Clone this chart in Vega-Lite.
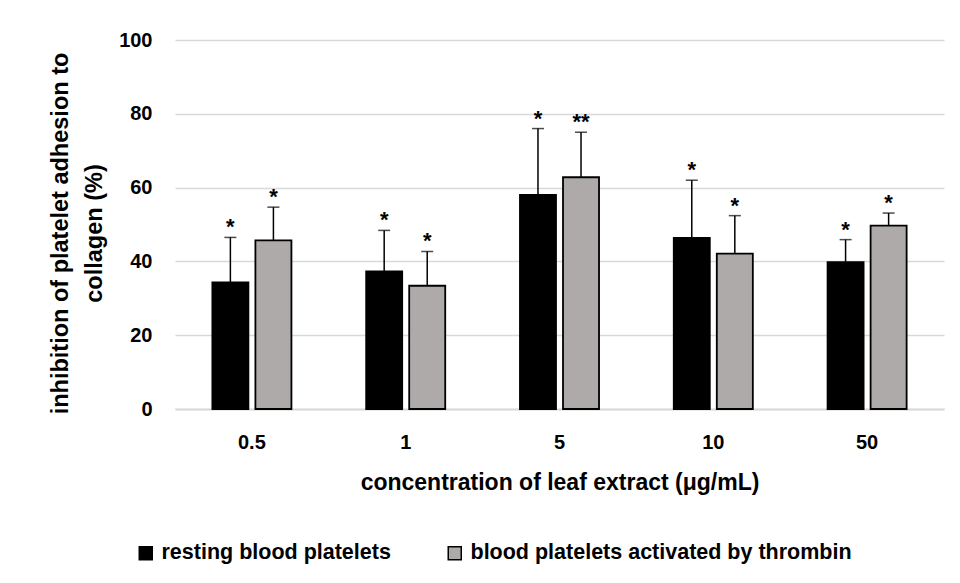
{
  "$schema": "https://vega.github.io/schema/vega-lite/v6.json",
  "width": 769,
  "height": 369,
  "autosize": {"type": "none"},
  "padding": {"left": 175, "top": 40, "right": 16, "bottom": 174},
  "background": "white",
  "config": {
    "view": {"stroke": null},
    "font": "Liberation Sans",
    "axis": {"labelFont": "Liberation Sans", "titleFont": "Liberation Sans Narrow, Liberation Sans", "labelFontWeight": "bold", "titleFontWeight": "bold", "labelColor": "#000000", "titleColor": "#000000"}
  },
  "data": {
    "values": [
      {"conc": "0.5", "series": "resting blood platelets", "value": 34.3, "upper": 46.5, "sig": "*"},
      {"conc": "0.5", "series": "blood platelets activated by thrombin", "value": 45.7, "upper": 54.7, "sig": "*"},
      {"conc": "1", "series": "resting blood platelets", "value": 37.3, "upper": 48.4, "sig": "*"},
      {"conc": "1", "series": "blood platelets activated by thrombin", "value": 33.4, "upper": 42.7, "sig": "*"},
      {"conc": "5", "series": "resting blood platelets", "value": 58.0, "upper": 76.0, "sig": "*"},
      {"conc": "5", "series": "blood platelets activated by thrombin", "value": 62.8, "upper": 75.0, "sig": "**"},
      {"conc": "10", "series": "resting blood platelets", "value": 46.4, "upper": 62.0, "sig": "*"},
      {"conc": "10", "series": "blood platelets activated by thrombin", "value": 42.1, "upper": 52.4, "sig": "*"},
      {"conc": "50", "series": "resting blood platelets", "value": 39.8, "upper": 45.9, "sig": "*"},
      {"conc": "50", "series": "blood platelets activated by thrombin", "value": 49.7, "upper": 53.1, "sig": "*"}
    ]
  },
  "encoding": {
    "x": {
      "field": "conc", "type": "nominal", "sort": ["0.5", "1", "5", "10", "50"],
      "scale": {"paddingInner": 0.486, "paddingOuter": 0.243},
      "axis": {
        "title": "concentration of leaf extract (μg/mL)", "titleFontSize": 23, "titleBaseline": "middle", "titleY": 73,
        "labelAngle": 0, "labelFontSize": 20, "labelBaseline": "middle", "labelPadding": 33, "ticks": false, "tickSize": 0,
        "domain": true, "domainColor": "#d9d9d9", "domainWidth": 2
      }
    },
    "xOffset": {
      "field": "series", "type": "nominal",
      "sort": ["resting blood platelets", "blood platelets activated by thrombin"],
      "scale": {"paddingInner": 0.163, "paddingOuter": 0}
    }
  },
  "layer": [
    {
      "mark": {"type": "bar", "stroke": "#000000", "strokeWidth": 1.8},
      "encoding": {
        "y": {
          "field": "value", "type": "quantitative",
          "scale": {"domain": [0, 100], "nice": false},
          "axis": {
            "title": ["inhibition of platelet adhesion to", "collagen (%)"], "titleFontSize": 23.5, "titleLineHeight": 34,
            "titleBaseline": "middle", "titleX": -115, "titleY": 193,
            "values": [0, 20, 40, 60, 80, 100], "labelFontSize": 20, "labelPadding": 23, "ticks": false, "tickSize": 0,
            "domain": false, "grid": true, "gridColor": "#d9d9d9", "gridWidth": 1.5
          }
        },
        "color": {
          "field": "series", "type": "nominal",
          "scale": {"domain": ["resting blood platelets", "blood platelets activated by thrombin"], "range": ["#000000", "#aeaaaa"]},
          "legend": {
            "title": null, "orient": "none", "direction": "horizontal", "legendX": -40, "legendY": 502,
            "symbolType": "square", "symbolSize": 169, "symbolStrokeColor": "#000000", "symbolStrokeWidth": 1.5, "symbolOpacity": 1,
            "labelFont": "Liberation Sans Narrow, Liberation Sans", "labelFontWeight": "bold", "labelFontSize": 21.5, "labelColor": "#000000",
            "labelOffset": 5, "columnPadding": 53, "labelLimit": 600
          }
        }
      }
    },
    {
      "mark": {"type": "rule", "color": "#000000", "strokeWidth": 1.5},
      "encoding": {
        "y": {"field": "value", "type": "quantitative"},
        "y2": {"field": "upper"}
      }
    },
    {
      "mark": {"type": "tick", "color": "#000000", "thickness": 1.5, "size": 12},
      "encoding": {
        "y": {"field": "upper", "type": "quantitative"}
      }
    },
    {
      "mark": {"type": "text", "font": "Liberation Sans", "fontWeight": "bold", "fontSize": 22, "baseline": "alphabetic", "dy": -3, "color": "#000000"},
      "encoding": {
        "y": {"field": "upper", "type": "quantitative"},
        "text": {"field": "sig"}
      }
    }
  ]
}
